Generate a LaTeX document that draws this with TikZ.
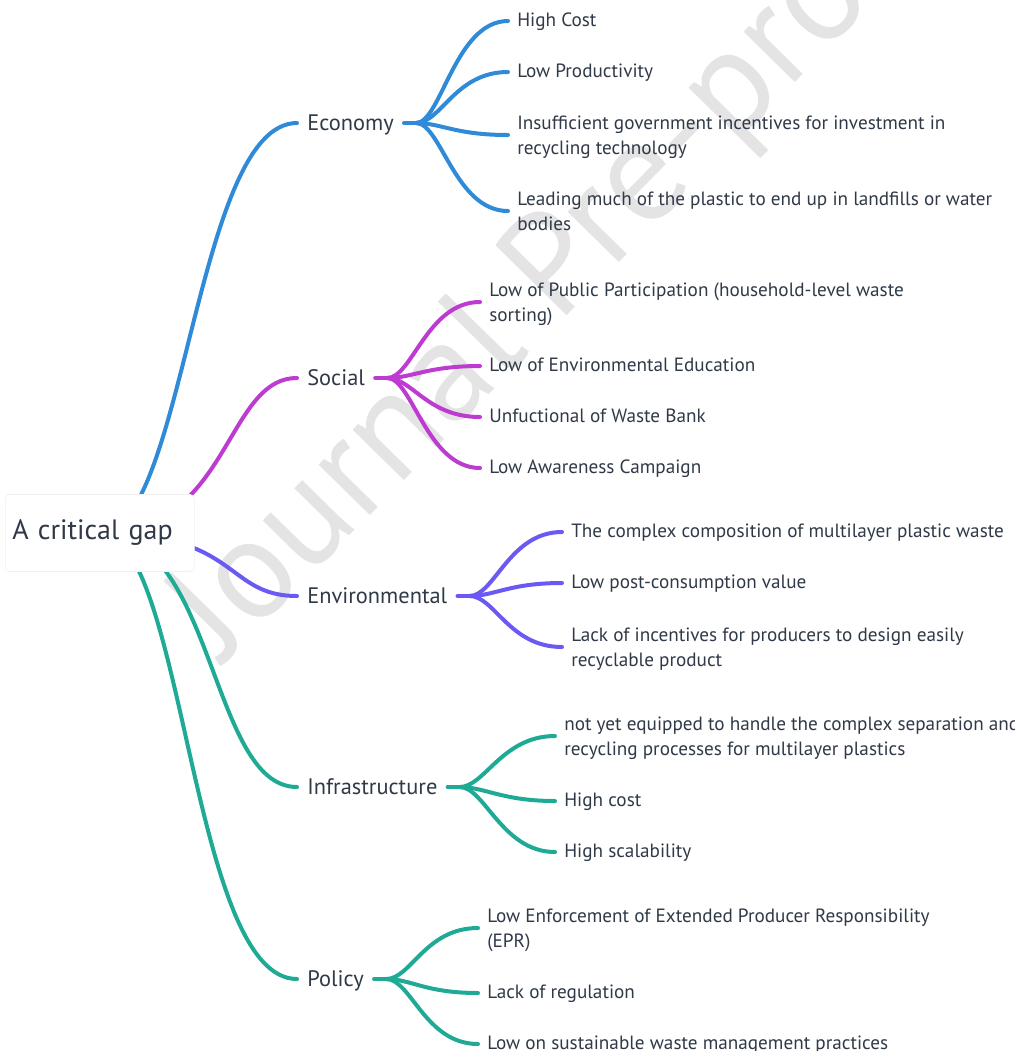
\documentclass[tikz,border=0pt]{standalone}
\usepackage{fontspec}
\setmainfont{PT Sans}
\definecolor{ink}{HTML}{2F3947}
\definecolor{ecoblue}{HTML}{2F8AD8}
\definecolor{socmag}{HTML}{BD3BD1}
\definecolor{envpur}{HTML}{6A5AF3}
\definecolor{inftea}{HTML}{1FAA95}
\definecolor{wmgray}{HTML}{E4E4E4}
\pgfdeclarelayer{wmark}
\pgfdeclarelayer{links}
\pgfsetlayers{wmark,links,main}
\begin{document}
\begin{tikzpicture}[x=0.75pt,y=-0.75pt,
  link/.style={line width=3pt, line cap=round},
  leaf/.style={anchor=west, inner xsep=6.75pt, inner ysep=0pt, align=left, text=ink,
    font=\fontsize{14.4}{19}\selectfont, execute at begin node=\strut, execute at end node=\strut},
  topic/.style={anchor=west, inner xsep=7.5pt, inner ysep=0pt, text height=11.8pt, text depth=0pt,
    text=ink, font=\fontsize{16.8}{20}\selectfont},
  hub/.style={anchor=west, rounded corners=3pt, fill=white, draw=black!6, text width=131.25pt,
    inner xsep=5.25pt, minimum height=57.75pt, align=left, text=ink, font=\fontsize{21}{25}\selectfont},
  stamp/.style={text=wmgray, font=\fontsize{108}{108}\selectfont, inner sep=0pt}]
  \useasboundingbox (0,0) rectangle (1015,1051);
  \pgfmathsetmacro{\fork}{9}

  \node[hub] (gap) at (5,533) {A critical gap};

  \node[topic] (eco) at (297,123) {Economy};
  \node[topic] (soc) at (297,378) {Social};
  \node[topic] (env) at (297,596) {Environmental};
  \node[topic] (inf) at (297,787) {Infrastructure};
  \node[topic] (pol) at (297,979) {Policy};

  \node[leaf] (eco-1) at (508,21) {High Cost};
  \node[leaf] (eco-2) at (508,72) {Low Productivity};
  \node[leaf] (eco-3) at (508,139) {Insufficient government incentives for investment in\\recycling technology};
  \node[leaf] (eco-4) at (508,215) {Leading much of the plastic to end up in landfills or water\\bodies};

  \node[leaf] (soc-1) at (480,306) {Low of Public Participation (household-level waste\\sorting)};
  \node[leaf] (soc-2) at (480,366) {Low of Environmental Education};
  \node[leaf] (soc-3) at (480,417) {Unfuctional of Waste Bank};
  \node[leaf] (soc-4) at (480,468) {Low Awareness Campaign};

  \node[leaf] (env-1) at (562,532) {The complex composition of multilayer plastic waste};
  \node[leaf] (env-2) at (562,583) {Low post-consumption value};
  \node[leaf] (env-3) at (562,651) {Lack of incentives for producers to design easily\\recyclable product};

  \node[leaf] (inf-1) at (555,740) {not yet equipped to handle the complex separation and\\recycling processes for multilayer plastics};
  \node[leaf] (inf-2) at (555,801) {High cost};
  \node[leaf] (inf-3) at (555,852) {High scalability};

  \node[leaf] (pol-1) at (478,932) {Low Enforcement of Extended Producer Responsibility\\(EPR)};
  \node[leaf] (pol-2) at (478,993) {Lack of regulation};
  \node[leaf] (pol-3) at (478,1044) {Low on sustainable waste management practices};

  \begin{pgfonlayer}{wmark}
    \node[stamp, rotate=45.5, anchor=base west] (jpp) at (224,664) {Journal Pre-proof};
  \end{pgfonlayer}

  \begin{pgfonlayer}{links}
    \draw[link, ecoblue] (gap.center) .. controls +(85,0) and +(-102,0) .. (eco.west);
    \draw[link, socmag] (gap.center) .. controls +(130,0) and +(-72,0) .. (soc.west);
    \draw[link, envpur] (gap.center) .. controls +(140,0) and +(-72,0) .. (env.west);
    \draw[link, inftea] (gap.center) .. controls +(115,0) and +(-87,0) .. (inf.west);
    \draw[link, inftea] (gap.center) .. controls +(85,0) and +(-107,0) .. (pol.west);

    \draw[link, ecoblue] (eco.east) -- ++(\fork pt,0) coordinate (eco-f);
    \draw[link, socmag] (soc.east) -- ++(\fork pt,0) coordinate (soc-f);
    \draw[link, envpur] (env.east) -- ++(\fork pt,0) coordinate (env-f);
    \draw[link, inftea] (inf.east) -- ++(\fork pt,0) coordinate (inf-f);
    \draw[link, inftea] (pol.east) -- ++(\fork pt,0) coordinate (pol-f);

    \foreach \i/\s in {1/0,2/0,3/3,4/3}
      \draw[link, ecoblue] (eco-f) .. controls +(25,0) and +(-53,0) .. ([yshift=\s pt]eco-\i.west);
    \foreach \i/\s in {1/3,2/0,3/0,4/0}
      \draw[link, socmag] (soc-f) .. controls +(25,0) and +(-53,0) .. ([yshift=\s pt]soc-\i.west);
    \foreach \i/\s in {1/0,2/0,3/3}
      \draw[link, envpur] (env-f) .. controls +(25,0) and +(-53,0) .. ([yshift=\s pt]env-\i.west);
    \foreach \i/\s in {1/3,2/0,3/0}
      \draw[link, inftea] (inf-f) .. controls +(25,0) and +(-53,0) .. ([yshift=\s pt]inf-\i.west);
    \foreach \i/\s in {1/3,2/0,3/0}
      \draw[link, inftea] (pol-f) .. controls +(25,0) and +(-53,0) .. ([yshift=\s pt]pol-\i.west);
  \end{pgfonlayer}
\end{tikzpicture}
\end{document}
